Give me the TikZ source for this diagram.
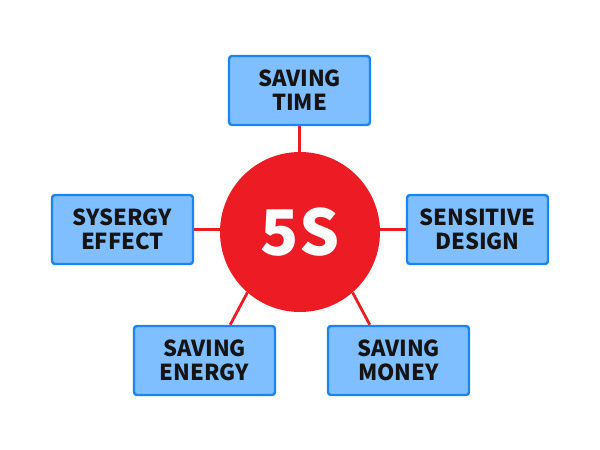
\documentclass[tikz,border=0pt]{standalone}
\usepackage{fontspec}
\setmainfont{Noto Sans CJK SC}
\usetikzlibrary{calc,backgrounds}
\definecolor{boxfill}{HTML}{80BFFF}
\definecolor{boxline}{HTML}{1A85F2}
\definecolor{hubred}{HTML}{ED1C24}
\definecolor{txt}{HTML}{141414}
\tikzset{
  itembox/.style={draw=boxline, line width=2.4pt, fill=boxfill, rounded corners=3pt,
    minimum width=141pt, minimum height=69pt, inner sep=0pt, align=center,
    font=\bfseries\fontsize{22}{24}\selectfont, text=txt},
  hub/.style={circle, fill=hubred, minimum size=160pt, inner sep=0pt,
    text=white, font=\bfseries\fontsize{63}{63}\selectfont},
  link/.style={draw=hubred, line width=2.8pt}
}
\begin{document}
\begin{tikzpicture}[x=1pt,y=-1pt]
\useasboundingbox (0,0) rectangle (600,450);
\node[hub] (c) at (300,232) {5S};
\node[itembox] (t) at (299.5,90.5) {SAVING\\TIME};
\node[itembox] (l) at (122.5,229.5) {SYSERGY\\EFFECT};
\node[itembox] (r) at (477.5,229.5) {SENSITIVE\\DESIGN};
\node[itembox] (bl) at (204.5,360.5) {SAVING\\ENERGY};
\node[itembox] (br) at (398.5,360.5) {SAVING\\MONEY};
\coordinate (blend) at ($(bl.north east)+(-46,0)$);
\coordinate (brend) at ($(br.north west)+(43,0)$);
\begin{scope}[on background layer]
\draw[link] (t.south) -- (t.south |- c.center);
\draw[link] (l.east) -- (l.east -| c.center);
\draw[link] (r.west) -- (r.west -| c.center);
\draw[link] (c.229) -- (blend);
\draw[link] (c.311) -- (brend);
\end{scope}
\end{tikzpicture}
\end{document}
